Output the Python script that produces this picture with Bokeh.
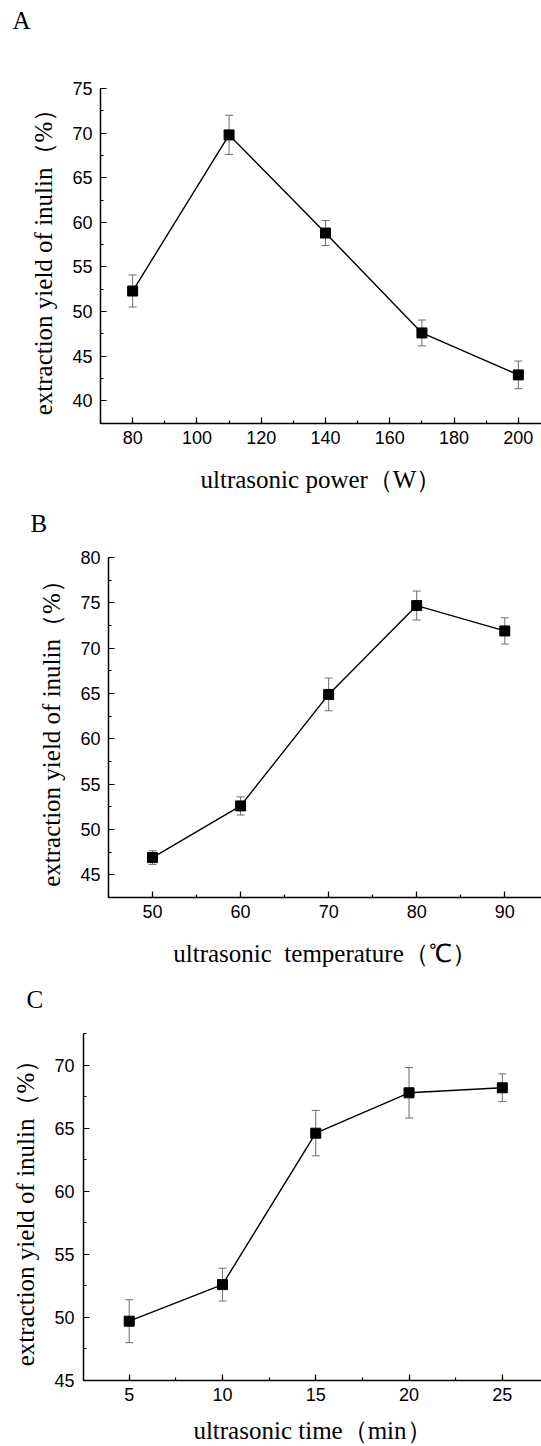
from bokeh.plotting import figure
from bokeh.models import (Range1d, SingleIntervalTicker, ColumnDataSource,
                          Whisker, TeeHead, Title)
from bokeh.embed import file_html
from bokeh.resources import INLINE

# ---------------- data ----------------
power = [80, 110, 140, 170, 200]
yield_power = [52.3, 69.8, 58.8, 47.6, 42.9]
err_power = [1.8, 2.2, 1.4, 1.45, 1.55]

temperature = [50, 60, 70, 80, 90]
yield_temperature = [46.9, 52.6, 64.9, 74.7, 71.9]
err_temperature = [0.75, 1.0, 1.8, 1.6, 1.45]

time_min = [5, 10, 15, 20, 25]
yield_time = [49.7, 52.6, 64.6, 67.8, 68.2]
err_time = [1.7, 1.3, 1.8, 2.0, 1.1]

y_title = "extraction yield of inulin（%）"
x_titles = ["ultrasonic power（W）", "ultrasonic\u00a0 temperature（℃）", "ultrasonic time（min）"]
letters = ["A", "B", "C"]

SERIF = "Liberation Serif"
SANS = "Liberation Sans"


def make_panel(x, y, err, letter, xtitle, height, b_left, b_top, b_bottom,
               xr, yr, xint, yint, letter_offset, spacer,
               ystand, xstand, lab_stand):
    p = figure(width=541, height=height, output_backend="svg",
               toolbar_location=None, x_range=Range1d(*xr), y_range=Range1d(*yr),
               min_border_left=b_left, min_border_right=0,
               min_border_top=b_top, min_border_bottom=b_bottom)
    p.outline_line_color = None
    p.grid.visible = False
    p.background_fill_color = "white"
    p.border_fill_color = "white"

    p.xaxis.ticker = SingleIntervalTicker(interval=xint, num_minor_ticks=2)
    p.yaxis.ticker = SingleIntervalTicker(interval=yint, num_minor_ticks=2)
    for ax in (p.xaxis[0], p.yaxis[0]):
        ax.axis_line_color = "black"
        ax.axis_line_width = 1.5
        ax.major_tick_in = 6
        ax.major_tick_out = 0
        ax.minor_tick_in = 3
        ax.minor_tick_out = 0
        ax.major_tick_line_color = "black"
        ax.minor_tick_line_color = "black"
        ax.major_tick_line_width = 1.2
        ax.minor_tick_line_width = 1.2
        ax.major_label_text_font = SANS
        ax.major_label_text_font_size = "18px"
        ax.major_label_text_color = "black"
        ax.axis_label_text_font = SERIF
        ax.axis_label_text_font_size = "25px"
        ax.axis_label_text_font_style = "normal"
        ax.axis_label_text_color = "black"
    p.xaxis.major_label_standoff = 7
    p.yaxis.major_label_standoff = lab_stand
    p.yaxis.axis_label = y_title
    p.yaxis.axis_label_standoff = ystand
    p.xaxis.axis_label = xtitle
    p.xaxis.axis_label_standoff = xstand

    # invisible spacer between the frame and the panel letter
    p.add_layout(Title(text=" ", text_font_size="1px", standoff=spacer,
                       text_color="white"), "above")
    p.add_layout(Title(text=letter, align="left", offset=letter_offset,
                       standoff=0, text_font=SERIF, text_font_size="25px",
                       text_font_style="normal", text_color="black"), "above")

    src = ColumnDataSource(dict(x=x, y=y,
                                lo=[a - b for a, b in zip(y, err)],
                                hi=[a + b for a, b in zip(y, err)]))
    w = Whisker(base="x", lower="lo", upper="hi", source=src,
                line_color="#6e6e6e", line_width=1,
                upper_head=TeeHead(size=8, line_color="#6e6e6e", line_width=1),
                lower_head=TeeHead(size=8, line_color="#6e6e6e", line_width=1),
                level="underlay")
    p.add_layout(w)
    p.line("x", "y", source=src, line_color="black", line_width=1.4)
    p.scatter("x", "y", source=src, marker="square", size=10,
              fill_color="black", line_color="black")
    return p


pA = make_panel(power, yield_power, err_power, letters[0], x_titles[0],
                height=496, b_left=100, b_top=88, b_bottom=73,
                xr=(70, 207.2), yr=(37.45, 75), xint=20, yint=5,
                letter_offset=-88, spacer=52,
                ystand=12, xstand=19, lab_stand=8)
pB = make_panel(temperature, yield_temperature, err_temperature, letters[1], x_titles[1],
                height=479, b_left=108, b_top=61, b_bottom=78,
                xr=(45, 94.17), yr=(42.5, 80), xint=10, yint=5,
                letter_offset=-78, spacer=18,
                ystand=12, xstand=19, lab_stand=8)
pC = make_panel(time_min, yield_time, err_time, letters[2], x_titles[2],
                height=471, b_left=83, b_top=58, b_bottom=66,
                xr=(2.55, 27.1), yr=(45, 72.5), xint=5, yint=5,
                letter_offset=-57, spacer=18,
                ystand=12, xstand=13, lab_stand=9)

open("out.html", "w").write(file_html([pA, pB, pC], INLINE))
